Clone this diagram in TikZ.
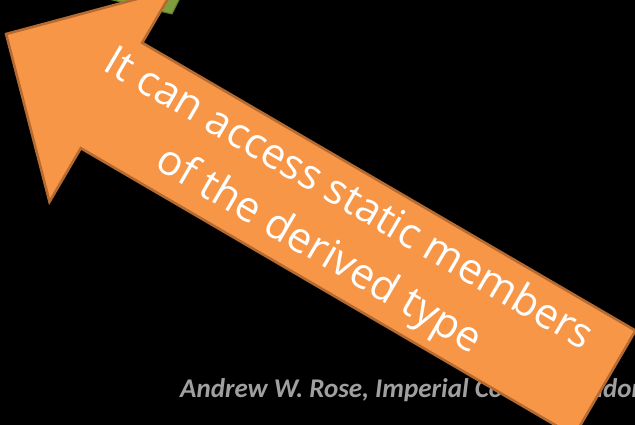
\documentclass[tikz,border=0pt]{standalone}
\usepackage{fontspec}
\setmainfont{Open Sans}
\newfontfamily\footfont{Carlito}
\begin{document}
\begin{tikzpicture}[x=1pt,y=-1pt,
  arrowfill/.style={fill=arrowor,draw=arroworline,line width=2.6pt,line join=miter},
  leaffill/.style={fill=leafgreen,draw=leafline,line width=1pt},
  bigtext/.style={text=white,font=\fontsize{42}{59}\selectfont,align=center,inner sep=0pt},
  foottext/.style={text=footgray,font=\footfont\bfseries\itshape\fontsize{27}{30}\selectfont,inner sep=0pt}]
\definecolor{arrowor}{HTML}{F79646}
\definecolor{arroworline}{HTML}{B46A30}
\definecolor{leafgreen}{HTML}{7E9E3E}
\definecolor{leafline}{HTML}{5E7A2A}
\definecolor{footgray}{HTML}{A0A0A0}
% page and background
\useasboundingbox (0,0) rectangle (635,425);
\fill[black] (0,0) rectangle (635,425);
% green shape peeking out behind the arrow head
\filldraw[leaffill] (100,-3) -- (172,14) -- (185,-12) -- cycle;
% footer line, partly covered by the arrow
\node[foottext,anchor=base west] (footer) at (180,397) {Andrew W. Rose, Imperial College London};
% the big arrow pointing up-left
\coordinate (tip) at (6.1,34.0);
\coordinate (headtop) at (173.5,-10.8);
\coordinate (shafttop) at (142.2,42.8);
\coordinate (tailtop) at (635.5,330.6);
\coordinate (tailbot) at (574.1,436.0);
\coordinate (shaftbot) at (80.8,148.2);
\coordinate (headbot) at (49.5,201.8);
\filldraw[arrowfill] (tip) -- (headtop) -- (shafttop) -- (tailtop) -- (tailbot)
  -- (shaftbot) -- (headbot) -- cycle;
% label along the shaft
\node[bigtext,rotate=-30.3] (label) at (333,226)
  {It can access static members\\of the derived type};
\end{tikzpicture}
\end{document}
